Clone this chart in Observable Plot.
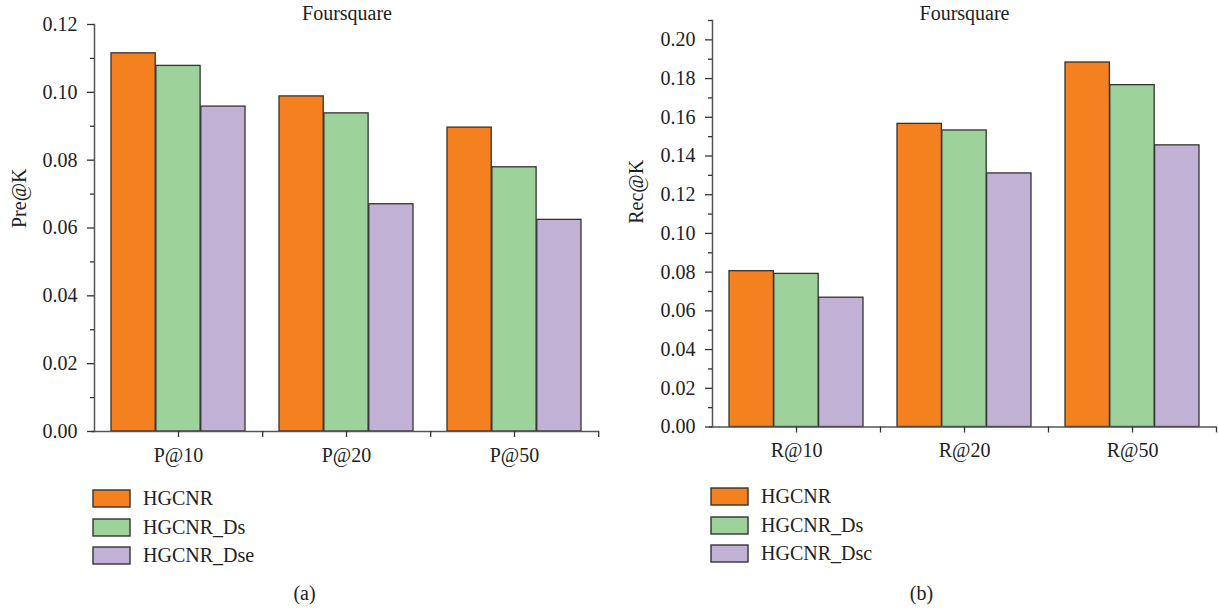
<!DOCTYPE html>
<html><head><meta charset="utf-8">
<script src="https://cdn.jsdelivr.net/npm/d3@7"></script>
<script src="https://cdn.jsdelivr.net/npm/@observablehq/plot@0.6"></script>
<style>
body{margin:0;background:#fff;font-family:"Liberation Serif","Times New Roman","DejaVu Serif",serif;color:#222;}
#wrap{display:flex;width:1218px;height:610px;overflow:hidden;}
.panel{position:relative;width:609px;height:610px;}
.panel svg.chart{position:absolute;left:0;top:0;}
.panel svg.chart text{font-family:"Liberation Serif","Times New Roman","DejaVu Serif",serif !important;}
.caption{position:absolute;top:581px;width:609px;text-align:center;font-size:20px;line-height:24px;color:#222;}
.legendbox{position:absolute;}
.legendbox, .legendbox *{font-family:"Liberation Serif","Times New Roman","DejaVu Serif",serif !important;}
.lg-swatches{font-size:20px !important;color:#222;margin:0 !important;}
.lg-swatch{display:flex;align-items:center;height:28.7px;padding:0 !important;}
.lg-swatch svg{margin-right:13px !important;overflow:visible;}
.lg-swatch svg rect{stroke:#333;stroke-width:1.4px;}
</style></head>
<body>
<div id="wrap"><div class="panel" id="pa"></div><div class="panel" id="pb"></div></div>
<script>
// ---- data ----
const titleText = "Foursquare";
const colors = ["#f58020", "#9dd29b", "#c1b1d5"];
const seriesA = ["HGCNR", "HGCNR_Ds", "HGCNR_Dse"];
const seriesB = ["HGCNR", "HGCNR_Ds", "HGCNR_Dsc"];
const catsA = ["P@10", "P@20", "P@50"];
const catsB = ["R@10", "R@20", "R@50"];
const preHGCNR = [0.1115, 0.0988, 0.0896];
const preDs    = [0.1078, 0.0938, 0.0779];
const preDse   = [0.0958, 0.0670, 0.0624];
const recHGCNR = [0.0805, 0.1566, 0.1883];
const recDs    = [0.0791, 0.1532, 0.1766];
const recDsc   = [0.0668, 0.1310, 0.1455];
const yTicksA = [0, 0.02, 0.04, 0.06, 0.08, 0.10, 0.12];
const yMinorA = [0.01, 0.03, 0.05, 0.07, 0.09, 0.11];
const yTicksB = [0, 0.02, 0.04, 0.06, 0.08, 0.10, 0.12, 0.14, 0.16, 0.18, 0.20];
const yMinorB = [0.01, 0.03, 0.05, 0.07, 0.09, 0.11, 0.13, 0.15, 0.17, 0.19, 0.21];

const FONT = '"Liberation Serif", "Times New Roman", "DejaVu Serif", serif';

function panel(el, cfg) {
  const pi = 0.2, po = 0.1;
  const n = cfg.cats.length;
  const step = (cfg.width - cfg.ml - cfg.mr) / (n - pi + 2 * po);
  const bw = step * (1 - pi);
  const w = bw / cfg.series.length;
  const barMarks = cfg.series.map((s, i) =>
    Plot.barY(cfg.cats.map((c, j) => ({cat: c, series: s, value: cfg.values[i][j]})), {
      x: "cat", y: "value", fill: "series", stroke: "#333", strokeWidth: 1.3,
      insetLeft: i * w, insetRight: (cfg.series.length - 1 - i) * w
    })
  );
  const chart = Plot.plot({
    width: cfg.width, height: cfg.height,
    marginLeft: cfg.ml, marginRight: cfg.mr, marginTop: cfg.mt, marginBottom: cfg.mb,
    style: {fontFamily: FONT, fontSize: "20px", color: "#222", background: "#fff"},
    x: {domain: cfg.cats, paddingInner: pi, paddingOuter: po, label: null},
    y: {domain: cfg.ydomain, label: null},
    color: {domain: cfg.series, range: colors},
    marks: [
      ...barMarks,
      Plot.ruleY([0], {stroke: "#555", strokeWidth: 1.5, insetLeft: -3}),
      Plot.frame({anchor: "left", stroke: "#555", strokeWidth: 1.5}),
      Plot.axisY({ticks: cfg.yticks, tickSize: 7, tickPadding: 10, tickFormat: d3.format(".2f"), label: null, stroke: "#333", strokeWidth: 1.3, fontFamily: FONT}),
      Plot.axisY({ticks: cfg.yminor, tickSize: 4, tickFormat: () => "", label: null, stroke: "#333", strokeWidth: 1.3}),
      Plot.axisX({tickSize: 6, tickPadding: 10, label: null, stroke: "#333", strokeWidth: 1.3, fontFamily: FONT}),
      Plot.axisX({tickSize: 6, tickFormat: () => "", label: null, dx: step / 2, stroke: "#333", strokeWidth: 1.3}),
      Plot.text([titleText], {frameAnchor: "top", lineAnchor: "middle", dy: cfg.titleDy, fontSize: 20, fontFamily: FONT}),
      Plot.text([cfg.ylabel], {frameAnchor: "left", rotate: -90, dx: cfg.ylabelDx, fontSize: 20, fontFamily: FONT})
    ]
  });
  chart.classList.add("chart");
  el.appendChild(chart);
  const lg = chart.legend("color", {legend: "swatches", columns: 1, swatchWidth: 37, swatchHeight: 17, className: "lg", style: {fontFamily: FONT, fontSize: "20px"}});
  const box = document.createElement("div");
  box.className = "legendbox";
  box.style.left = cfg.legendLeft + "px";
  box.style.top = cfg.legendTop + "px";
  box.appendChild(lg);
  el.appendChild(box);
  const cap = document.createElement("div");
  cap.className = "caption";
  cap.style.left = cfg.capLeft + "px";
  cap.textContent = cfg.caption;
  el.appendChild(cap);
}

panel(document.getElementById("pa"), {
  width: 609, height: 470, ml: 94, mr: 10, mt: 24, mb: 39,
  cats: catsA, series: seriesA, values: [preHGCNR, preDs, preDse],
  ydomain: [0, 0.12], yticks: yTicksA, yminor: yMinorA,
  ylabel: "Pre@K", ylabelDx: -75, titleDy: -11,
  legendLeft: 93, legendTop: 484, caption: "(a)", capLeft: 0
});
panel(document.getElementById("pb"), {
  width: 609, height: 466, ml: 103, mr: 2, mt: 20, mb: 39.5,
  cats: catsB, series: seriesB, values: [recHGCNR, recDs, recDsc],
  ydomain: [0, 0.21], yticks: yTicksB, yminor: yMinorB,
  ylabel: "Rec@K", ylabelDx: -76, titleDy: -7,
  legendLeft: 102, legendTop: 482, caption: "(b)", capLeft: 8
});
</script>
</body></html>
